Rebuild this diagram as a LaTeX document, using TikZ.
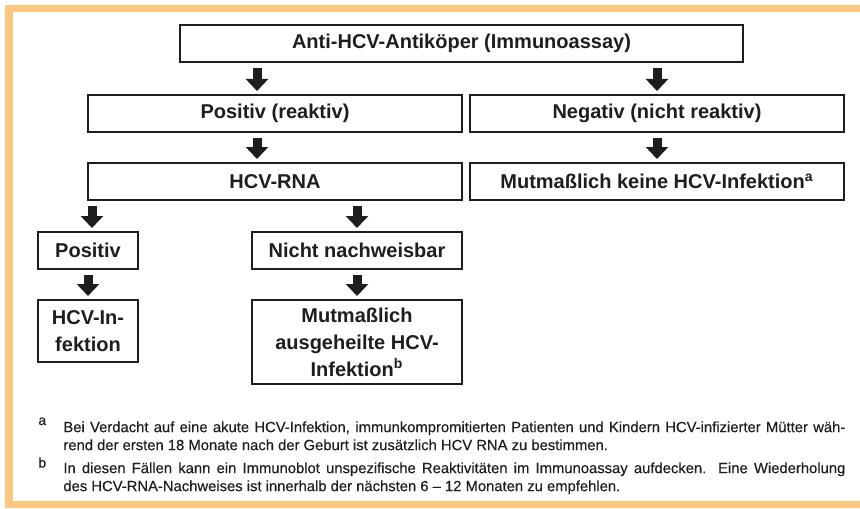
\documentclass[tikz,border=0pt]{standalone}
\usepackage{fontspec}
\setmainfont{Liberation Sans}
\newfontfamily\notefont[FakeBold=0.3]{Liberation Sans}
\usetikzlibrary{arrows.meta}
\definecolor{frameorange}{RGB}{254,199,128}
\definecolor{ink}{RGB}{30,30,30}

\begin{document}
\begin{tikzpicture}[
  x=0.5pt, y=-0.5pt,
  box/.style={draw=ink, line width=1pt, fill=white, align=center, inner sep=0pt,
    text=ink, font=\bfseries\fontsize{10}{13.5}\selectfont},
  blk/.style={-{Triangle[width=11pt,length=6pt]}, line width=4.5pt, draw=ink,
    shorten <=2.5pt, shorten >=1.5pt},  % block arrows
  fnote/.style={anchor=north west, inner sep=0pt, text width=391pt, align=justify,
    text=ink, font=\notefont\fontsize{7.4}{9}\selectfont},
  fmark/.style={anchor=north west, inner sep=0pt, text=ink, font=\notefont\fontsize{7}{7}\selectfont}
]
\useasboundingbox (0,0) rectangle (860,508);
\fill[white] (0,0) rectangle (860,508);
% orange frame
\fill[frameorange] (5,5) rectangle (860,12);
\fill[frameorange] (5,5) rectangle (13,508);
\fill[frameorange] (5,501) rectangle (860,508);

% Nodes
\node[box, minimum width=281.5pt, minimum height=18.5pt] (top)  at (461.5,43.5) {Anti-HCV-Antiköper (Immunoassay)};
\node[box, minimum width=187pt, minimum height=18.5pt] (pos)    at (275,113.5) {Positiv (reaktiv)};
\node[box, minimum width=187pt, minimum height=18.5pt] (neg)    at (657,113.5) {Negativ (nicht reaktiv)};
\node[box, minimum width=187pt, minimum height=18.5pt] (rna)    at (275,181.5) {HCV-RNA};
\node[box, minimum width=187pt, minimum height=18.5pt] (keine)  at (657,181.5) {Mutmaßlich keine HCV-Infektion\textsuperscript{a}};
\node[box, minimum width=50pt, minimum height=18.5pt] (posi)    at (88,250.5) {Positiv};
\node[box, minimum width=105pt, minimum height=18.5pt] (nicht)  at (357,250.5) {Nicht nachweisbar};
\node[box, minimum width=50pt, minimum height=31pt] (infekt)    at (88,331) {HCV-In-\\fektion};
\node[box, minimum width=105pt, minimum height=42pt] (geheilt)  at (357,342) {Mutmaßlich\\ausgeheilte HCV-\\Infektion\textsuperscript{b}};

% Arrows
\draw[blk] ([xshift=-9pt]pos.north |- top.south) -- ([xshift=-9pt]pos.north);
\draw[blk] (neg.north |- top.south) -- (neg.north);
\draw[blk] ([xshift=-9pt]rna.north |- pos.south) -- ([xshift=-9pt]rna.north);
\draw[blk] (neg.south) -- (keine.north);
\draw[blk] ([xshift=2pt]posi.north |- rna.south) -- ([xshift=2pt]posi.north);
\draw[blk] (nicht.north |- rna.south) -- (nicht.north);
\draw[blk] (posi.south) -- (infekt.north);
\draw[blk] (nicht.south) -- (geheilt.north);

% Footnotes
\node[fnote] (fna) at (63,421) {Bei Verdacht auf eine akute HCV-Infektion, immunkompromitierten Patienten und Kindern HCV-infizierter Mütter wäh-\linebreak rend der ersten 18 Monate nach der Geburt ist zusätzlich HCV RNA zu bestimmen.};
\node[fmark] (ma) at (38,417) {a};
\node[fnote] (fnb) at (63,462) {In diesen Fällen kann ein Immunoblot unspezifische Reaktivitäten im Immunoassay aufdecken. Eine Wiederholung\linebreak des HCV-RNA-Nachweises ist innerhalb der nächsten 6 – 12 Monaten zu empfehlen.};
\node[fmark] (mb) at (38,457) {b};
\end{tikzpicture}
\end{document}
